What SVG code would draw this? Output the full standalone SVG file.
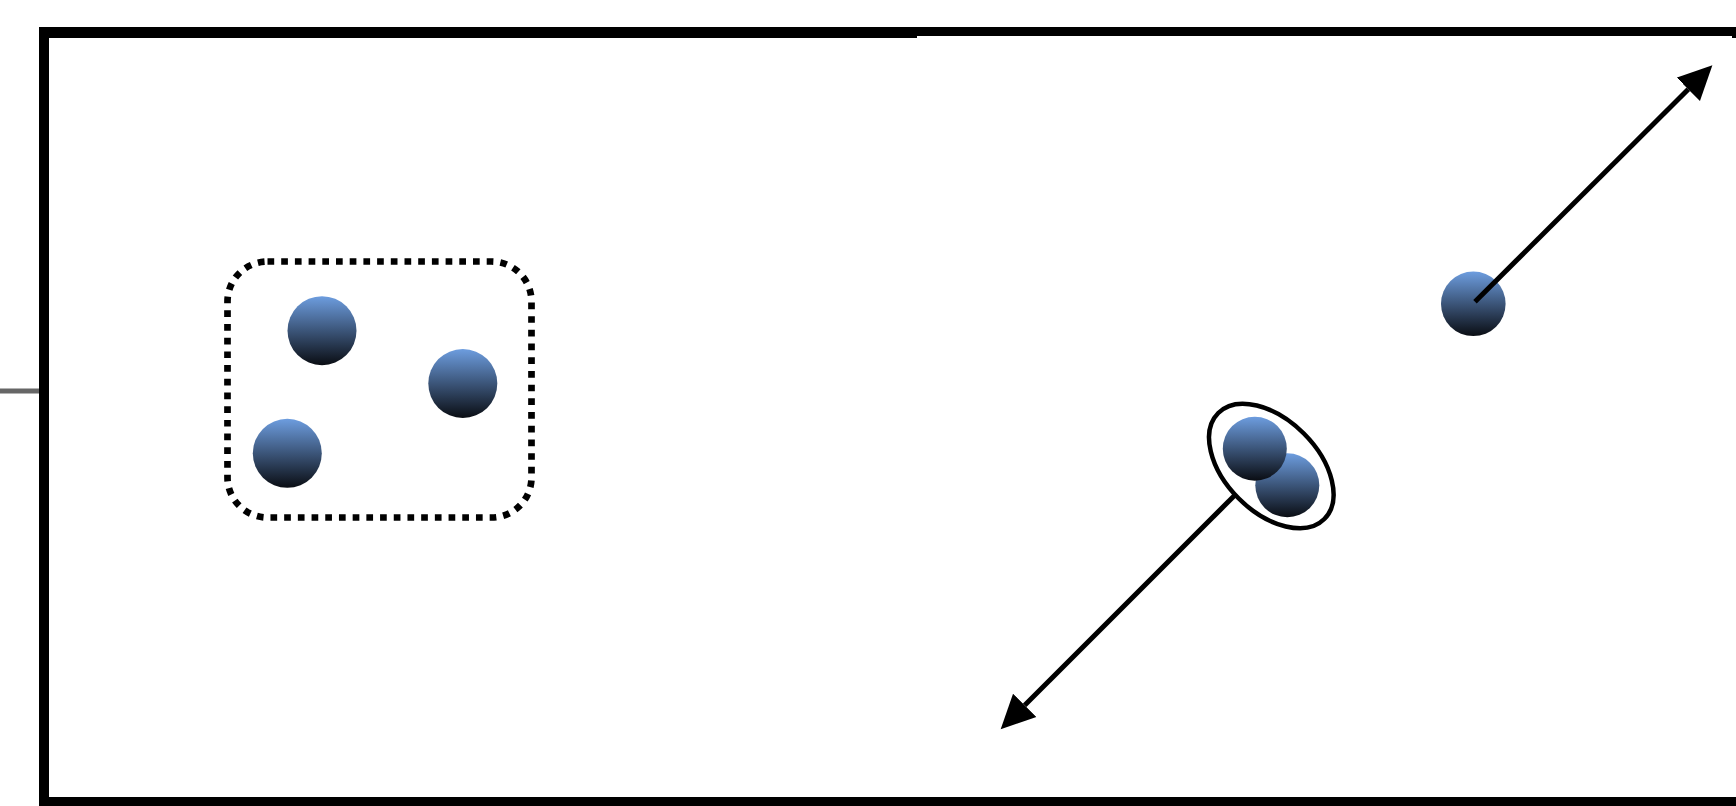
<svg xmlns="http://www.w3.org/2000/svg" width="1736" height="806" viewBox="0 0 1736 806">
  <style>
    .frame { fill: #000; }
    .ball { fill: url(#ballGrad); }
    .conn { stroke: #000; stroke-width: 5; fill: none; stroke-linecap: butt; }
  </style>
  <defs>
    <linearGradient id="ballGrad" x1="0" y1="0" x2="0" y2="1">
      <stop offset="0" stop-color="#6d9ddf"/>
      <stop offset="1" stop-color="#0a0d13"/>
    </linearGradient>
    <marker id="arrow" markerUnits="userSpaceOnUse" markerWidth="36" markerHeight="34" refX="0" refY="16.5" orient="auto" viewBox="0 0 36 33">
      <path d="M0,0 L34,16.5 L0,33 z" fill="#000"/>
    </marker>
  </defs>
  <rect width="1736" height="806" fill="#fff"/>
  <g id="frame">
    <rect class="frame" x="39" y="27" width="878" height="11"/>
    <rect class="frame" x="917" y="27" width="819" height="9"/>
    <rect class="frame" x="1732" y="27" width="4" height="11"/>
    <rect class="frame" x="39" y="27" width="10" height="779"/>
    <rect class="frame" x="39" y="797" width="1697" height="9"/>
    <rect x="0" y="388.5" width="39" height="5" fill="#666"/>
  </g>
  <g id="group-left">
    <rect x="227.5" y="261.5" width="304" height="256" rx="40" ry="40" fill="none" stroke="#000" stroke-width="6.7" stroke-dasharray="6.7 7"/>
    <circle class="ball" cx="322" cy="330.7" r="34.5"/>
    <circle class="ball" cx="462.8" cy="383.5" r="34.5"/>
    <circle class="ball" cx="287.3" cy="453.3" r="34.5"/>
  </g>
  <g id="pair">
    <circle class="ball" cx="1287.3" cy="485.3" r="32"/>
    <circle class="ball" cx="1254.8" cy="448.7" r="32"/>
    <ellipse cx="1271.3" cy="466" rx="75" ry="46" transform="rotate(45 1271.3 466)" fill="none" stroke="#000" stroke-width="4.5"/>
  </g>
  <g id="single">
    <circle class="ball" cx="1473.3" cy="303.8" r="32.3"/>
  </g>
  <g id="connectors">
    <line class="conn" x1="1235" y1="495" x2="1024.7" y2="705.3" marker-end="url(#arrow)"/>
    <line class="conn" x1="1475" y1="301.7" x2="1688.3" y2="89.3" marker-end="url(#arrow)"/>
  </g>
</svg>
